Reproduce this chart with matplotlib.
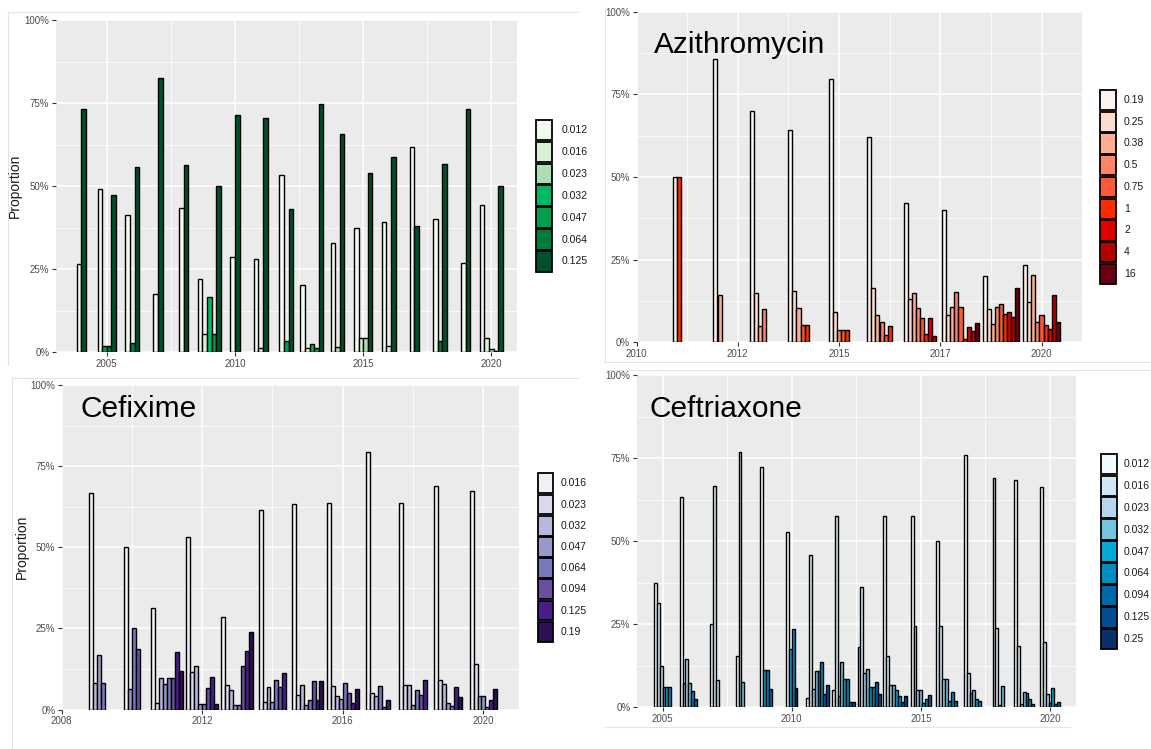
import matplotlib
matplotlib.use("Agg")
import matplotlib.pyplot as plt
from matplotlib.patches import Rectangle
from matplotlib.lines import Line2D

plt.rcParams['font.family'] = ['Liberation Sans', 'DejaVu Sans']

# ---------------------------------------------------------------- data
# proportions (%) of isolates per MIC value, one row per year (0 = not observed)

# unlabelled green panel
green_years = list(range(2004, 2021))
green_mic = ["0.012", "0.016", "0.023", "0.032", "0.047", "0.064", "0.125"]
green_colors = ["#f2faf0", "#d8f0d3", "#aadfb0", "#00b862", "#009e4f", "#007a3a", "#00512b"]
green_props = [
    [26.7, 0, 0, 0, 0, 0, 73.3],
    [49.1, 0, 0, 0, 1.75, 1.75, 47.4],
    [41.2, 0, 0, 0, 0, 2.9, 55.9],
    [17.4, 0, 0, 0, 0, 0, 82.6],
    [43.5, 0, 0, 0, 0, 0, 56.5],
    [22.2, 5.6, 0, 16.7, 5.6, 0, 50.0],
    [28.6, 0, 0, 0, 0, 0, 71.4],
    [28.2, 1.4, 0, 0, 0, 0, 70.4],
    [53.5, 0, 0, 0, 3.3, 0, 43.2],
    [20.3, 1.2, 0, 2.5, 1.2, 0, 74.8],
    [32.8, 0, 1.6, 0, 0, 0, 65.6],
    [37.5, 4.2, 4.2, 0, 0, 0, 54.1],
    [39.2, 2.0, 0, 0, 0, 0, 58.8],
    [61.9, 0, 0, 0, 0, 0, 38.1],
    [40.0, 0, 0, 0, 0, 3.3, 56.7],
    [26.9, 0, 0, 0, 0, 0, 73.1],
    [44.4, 4.4, 0.9, 0, 0.3, 0, 50.0],
]

# Azithromycin
azi_years = list(range(2011, 2021))
azi_mic = ["0.19", "0.25", "0.38", "0.5", "0.75", "1", "2", "4", "16"]
azi_colors = ["#fdf2ed", "#fcdccf", "#fcae92", "#fb8666", "#f95a3a",
              "#ff2a00", "#e00000", "#b30000", "#6a0010"]
azi_props = [
    [50.0, 0, 0, 0, 0, 50.0, 0, 0, 0],
    [85.7, 0, 14.3, 0, 0, 0, 0, 0, 0],
    [70.0, 15.0, 5.0, 10.0, 0, 0, 0, 0, 0],
    [64.1, 15.4, 10.3, 0, 5.1, 5.1, 0, 0, 0],
    [79.6, 9.3, 0, 3.7, 3.7, 3.7, 0, 0, 0],
    [62.0, 16.5, 8.4, 6.0, 2.3, 4.9, 0, 0, 0],
    [42.1, 13.0, 14.9, 10.4, 7.4, 2.6, 7.4, 1.9, 0],
    [39.9, 8.4, 10.7, 15.3, 10.7, 1.1, 4.6, 3.4, 5.8],
    [20.0, 10.0, 5.6, 10.8, 11.5, 8.5, 9.3, 7.8, 16.5],
    [23.5, 12.2, 20.4, 6.1, 8.2, 5.1, 4.1, 14.3, 6.1],
]

# Cefixime
cfx_years = list(range(2009, 2021))
cfx_mic = ["0.016", "0.023", "0.032", "0.047", "0.064", "0.094", "0.125", "0.19"]
cfx_colors = ["#f1f0f7", "#d9d9eb", "#b7b9dc", "#9a98c9", "#7679ba",
              "#6a4ea0", "#4a1e88", "#2b1052"]
cfx_props = [
    [66.7, 0, 8.3, 16.7, 8.3, 0, 0, 0],
    [50.0, 0, 0, 6.25, 25.0, 18.75, 0, 0],
    [31.4, 2.0, 9.8, 7.8, 9.8, 9.8, 17.6, 11.8],
    [53.3, 11.7, 13.3, 1.7, 1.7, 6.7, 10.0, 1.7],
    [28.4, 7.5, 6.0, 1.5, 1.5, 13.4, 17.9, 23.9],
    [61.4, 2.3, 6.8, 2.3, 9.1, 6.8, 11.4, 0],
    [63.2, 4.4, 7.4, 1.5, 2.9, 8.8, 2.9, 8.8],
    [63.6, 7.2, 4.3, 3.1, 8.2, 5.2, 1.9, 6.2],
    [79.4, 5.2, 4.1, 0, 7.2, 0.8, 3.0, 0],
    [63.6, 7.6, 7.6, 1.5, 6.1, 4.5, 9.1, 0],
    [69.0, 9.0, 8.0, 2.0, 1.0, 0, 7.0, 4.0],
    [67.2, 14.1, 4.3, 4.3, 0.7, 0, 3.0, 6.4],
]

# Ceftriaxone
cro_years = list(range(2005, 2021))
cro_mic = ["0.012", "0.016", "0.023", "0.032", "0.047", "0.064", "0.094", "0.125", "0.25"]
cro_colors = ["#f2f9fd", "#d2e7f5", "#b2d7ee", "#72c4e0", "#00a9d6",
              "#008cc4", "#0068ad", "#004c95", "#08306b"]
cro_props = [
    [37.5, 31.25, 12.5, 6.25, 6.25, 6.25, 0, 0, 0],
    [63.4, 7.3, 14.6, 7.3, 0, 4.9, 2.4, 0, 0],
    [25.0, 66.7, 8.3, 0, 0, 0, 0, 0, 0],
    [15.4, 76.9, 0, 7.7, 0, 0, 0, 0, 0],
    [72.2, 0, 0, 0, 11.1, 11.1, 5.6, 0, 0],
    [52.9, 0, 0, 0, 17.6, 23.5, 0, 5.9, 0],
    [2.7, 45.9, 5.4, 10.8, 10.8, 13.5, 4.1, 6.8, 0],
    [5.1, 57.6, 3.4, 13.6, 8.5, 8.5, 1.7, 1.7, 0],
    [18.1, 36.2, 10.3, 11.5, 6.2, 6.2, 7.5, 4.0, 0],
    [57.6, 15.3, 6.8, 6.8, 5.1, 3.4, 1.7, 3.4, 0],
    [57.7, 24.4, 5.1, 5.1, 1.3, 2.6, 3.8, 0, 0],
    [50.0, 24.6, 8.4, 8.4, 1.9, 4.7, 1.9, 0, 0],
    [75.8, 10.3, 4.3, 5.2, 2.6, 1.8, 0, 0, 0],
    [69.0, 24.0, 0.7, 6.3, 0, 0, 0, 0, 0],
    [68.3, 18.5, 0.9, 4.7, 4.2, 2.6, 0.9, 0, 0],
    [66.4, 19.7, 4.0, 1.3, 5.9, 1.0, 1.7, 0, 0],
]

y_breaks = [0, 0.25, 0.5, 0.75, 1.0]
y_labels = ["0%", "25%", "50%", "75%", "100%"]

# ---------------------------------------------------------------- figure
W, H = 1151, 749
fig = plt.figure(figsize=(W / 100, H / 100), dpi=100)
fig.patch.set_facecolor("white")


def px_axes(x0, y0, x1, y1):
    """Axes placed by pixel box (left, top, right, bottom)."""
    return fig.add_axes([x0 / W, 1 - y1 / H, (x1 - x0) / W, (y1 - y0) / H])


def draw_panel(box, years, props, colors, xlim, ylim, xbreaks, xlabels, xminor):
    ax = px_axes(*box)
    ax.set_facecolor("#EBEBEB")
    n_max = max(sum(1 for v in row if v > 0) for row in props)
    w = 0.9 / n_max
    for yr, row in zip(years, props):
        present = [(k, v) for k, v in enumerate(row) if v > 0]
        n = len(present)
        xs = [yr + (i - (n - 1) / 2) * w for i in range(n)]
        ax.bar(xs, [v / 100 for _, v in present], width=w,
               color=[colors[k] for k, _ in present],
               edgecolor="black", linewidth=1.0, zorder=3)
    ax.set_xlim(*xlim)
    ax.set_ylim(*ylim)
    ax.set_xticks(xbreaks)
    ax.set_xticklabels(xlabels)
    ax.set_xticks(xminor, minor=True)
    ax.set_yticks(y_breaks)
    ax.set_yticklabels(y_labels)
    ax.set_yticks([0.125, 0.375, 0.625, 0.875], minor=True)
    ax.grid(which="major", color="white", linewidth=1.1, zorder=0)
    ax.grid(which="minor", color="white", linewidth=0.55, zorder=0)
    ax.set_axisbelow(True)
    for s in ax.spines.values():
        s.set_visible(False)
    ax.tick_params(which="major", length=3, width=0.8, color="#333333",
                   labelsize=7, labelcolor="#4d4d4d", pad=1.5)
    ax.tick_params(which="minor", length=0)
    return ax


def draw_legend(x0, y0, key_w, key_h, labels, colors, label_x):
    n = len(labels)
    lax = px_axes(x0, y0, x0 + key_w, y0 + key_h * n)
    lax.set_xlim(0, 1)
    lax.set_ylim(n, 0)
    lax.axis("off")
    for i, c in enumerate(colors):
        lax.add_patch(Rectangle((0.04, i + 0.03), 0.92, 0.94, facecolor=c,
                                edgecolor="black", linewidth=1.3, clip_on=False))
    for i, lab in enumerate(labels):
        fig.text(label_x / W, 1 - (y0 + (i + 0.5) * key_h) / H, lab,
                 fontsize=7.5, va="center", ha="left", color="#1a1a1a")


# thin frames around the four pieces
frame = "#e4e4e4"
for (xa, ya, xb, yb) in [(8, 12, 8, 365), (8, 12, 578, 12),
                         (605, 8, 605, 362), (605, 362, 1151, 362),
                         (12, 378, 12, 749), (12, 378, 578, 378),
                         (605, 370, 1151, 370), (605, 727, 1070, 727)]:
    fig.add_artist(Line2D([xa / W, xb / W], [1 - ya / H, 1 - yb / H],
                          color=frame, linewidth=0.8))

# top-left (green)
draw_panel((55.5, 20, 517, 352.3), green_years, green_props, green_colors,
           (2003, 2021), (0, 1.0),
           [2005, 2010, 2015, 2020], ["2005", "2010", "2015", "2020"],
           [2007.5, 2012.5, 2017.5])
fig.text(15 / W, 1 - 186 / H, "Proportion", rotation=90, fontsize=10,
         va="center", ha="center", color="#1a1a1a")
draw_legend(535, 119.1, 18, 21.9, green_mic, green_colors, 562)

# top-right (Azithromycin)
ax2 = draw_panel((636.5, 11.7, 1082, 342.3), azi_years, azi_props, azi_colors,
                 (2010, 2021), (0, 1.0),
                 [2010, 2012.5, 2015, 2017.5, 2020],
                 ["2010", "2012", "2015", "2017", "2020"],
                 [2011.25, 2013.75, 2016.25, 2018.75])
ax2.text(0.04, 0.9, "Azithromycin", transform=ax2.transAxes,
         fontsize=21.5, va="center", ha="left", color="black")
draw_legend(1099, 89.1, 18, 21.75, azi_mic, azi_colors, 1124)

# bottom-left (Cefixime)
ax3 = draw_panel((61.5, 385, 518.6, 709.5), cfx_years, cfx_props, cfx_colors,
                 (2008, 2021), (0, 1.0),
                 [2008, 2012, 2016, 2020], ["2008", "2012", "2016", "2020"],
                 [2010, 2014, 2018])
ax3.text(0.042, 0.926, "Cefixime", transform=ax3.transAxes,
         fontsize=21.5, va="center", ha="left", color="black")
fig.text(22 / W, 1 - 547 / H, "Proportion", rotation=90, fontsize=10,
         va="center", ha="center", color="#1a1a1a")
draw_legend(537, 472.7, 17, 21.2, cfx_mic, cfx_colors, 561)

# bottom-right (Ceftriaxone)
ax4 = draw_panel((636.7, 375, 1075.8, 707.3), cro_years, cro_props, cro_colors,
                 (2004, 2021), (0, 1.0),
                 [2005, 2010, 2015, 2020], ["2005", "2010", "2015", "2020"],
                 [2007.5, 2012.5, 2017.5])
ax4.text(0.03, 0.898, "Ceftriaxone", transform=ax4.transAxes,
         fontsize=21.5, va="center", ha="left", color="black")
draw_legend(1100, 453, 18, 21.9, cro_mic, cro_colors, 1124)

fig.savefig("out.png", dpi=100)
